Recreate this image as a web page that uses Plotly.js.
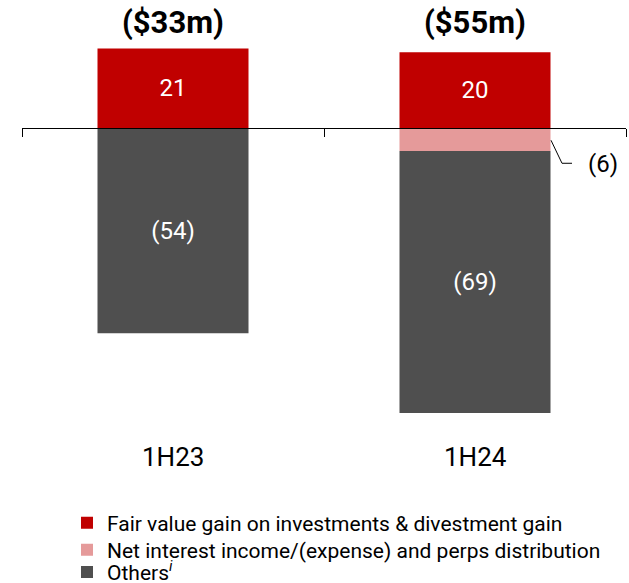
<!DOCTYPE html>
<html>
<head>
<meta charset="utf-8">
<script src="https://cdn.plot.ly/plotly-3.0.1.min.js"></script>
<style>html,body{margin:0;padding:0;background:#fff;}#chart{width:629px;height:583px;}</style>
</head>
<body>
<div id="chart"></div>
<script>
const categories = ['1H23', '1H24'];
const seriesNames = [
  'Fair value gain on investments & divestment gain',
  'Net interest income/(expense) and perps distribution',
  'Others<sup><i>i</i></sup>'
];
const fairValue = [21, 20];
const netInterest = [0, -6];
const others = [-54, -69];
const totalLabels = ['($33m)', '($55m)'];

const colors = ['#C00000', '#E59A9A', '#4F4F4F'];
const legendIds = ['legend', 'legend2', 'legend3'];
const fmt = v => v === 0 ? '' : (v < 0 ? '(' + (-v) + ')' : String(v));

const traces = [
  {name: seriesNames[0], y: fairValue, color: colors[0], text: fairValue.map(fmt)},
  {name: seriesNames[1], y: netInterest, color: colors[1], text: null},
  {name: seriesNames[2], y: others, color: colors[2], text: others.map(fmt)}
].map((s, i) => {
  const t = {
    type: 'bar', x: categories, y: s.y, name: s.name,
    legend: legendIds[i],
    marker: {color: s.color, line: {width: 0}},
    hoverinfo: 'skip', cliponaxis: false
  };
  if (s.text) {
    t.text = s.text;
    t.textposition = 'inside';
    t.insidetextanchor = 'middle';
    t.constraintext = 'none';
    t.textfont = {family: 'Roboto', size: 24, color: '#FFFFFF'};
  } else {
    t.textposition = 'none';
  }
  return t;
});

const yRange = [-80, 33];
const zeroPos = (0 - yRange[0]) / (yRange[1] - yRange[0]);

const annotations = categories.map((c, i) => ({
  x: c, y: 27.9, xref: 'x', yref: 'y', text: '<b>' + totalLabels[i] + '</b>',
  showarrow: false, xanchor: 'center', yanchor: 'middle',
  font: {family: 'Roboto', size: 31, color: '#000000'}
}));
categories.forEach(c => annotations.push({
  x: c, y: -0.058, xref: 'x', yref: 'paper', text: c,
  showarrow: false, xanchor: 'center', yanchor: 'middle',
  font: {family: 'Roboto', size: 26, color: '#000000'}
}));
annotations.push({
  x: categories[1], y: -9.3, xref: 'x', yref: 'y', text: fmt(netInterest[1]),
  showarrow: false, xanchor: 'left', yanchor: 'middle', xshift: 111,
  font: {family: 'Roboto', size: 24, color: '#000000'}
});

const legendRowsY = [-0.2121, -0.2751, -0.327];
const legendBase = {
  x: 0.0745, xref: 'paper', yref: 'paper', xanchor: 'left', yanchor: 'middle',
  orientation: 'v', font: {family: 'Roboto', size: 21, color: '#000000'},
  bgcolor: 'rgba(0,0,0,0)', borderwidth: 0, itemclick: false
};

const layout = {
  width: 629, height: 583,
  margin: {l: 22, r: 3, t: 3, b: 151, autoexpand: false},
  paper_bgcolor: '#FFFFFF', plot_bgcolor: '#FFFFFF',
  barmode: 'relative', bargap: 0.5,
  showlegend: true,
  legend: Object.assign({}, legendBase, {y: legendRowsY[0]}),
  legend2: Object.assign({}, legendBase, {y: legendRowsY[1]}),
  legend3: Object.assign({}, legendBase, {y: legendRowsY[2]}),
  xaxis: {
    type: 'category', anchor: 'free', position: zeroPos,
    showticklabels: false, tickson: 'boundaries',
    ticks: 'outside', ticklen: 8, tickwidth: 1, tickcolor: '#000000',
    showline: true, linecolor: '#000000', linewidth: 1,
    showgrid: false, zeroline: false
  },
  yaxis: {range: yRange, visible: false, showgrid: false, zeroline: false},
  annotations: annotations,
  shapes: [{
    type: 'path', xref: 'x', yref: 'y',
    xsizemode: 'pixel', ysizemode: 'pixel', xanchor: 1, yanchor: 0,
    path: 'M76,-12L87,-35L97,-35',
    line: {color: '#000000', width: 1}
  }]
};

Plotly.newPlot('chart', traces, layout, {staticPlot: true, displayModeBar: false});
</script>
</body>
</html>
